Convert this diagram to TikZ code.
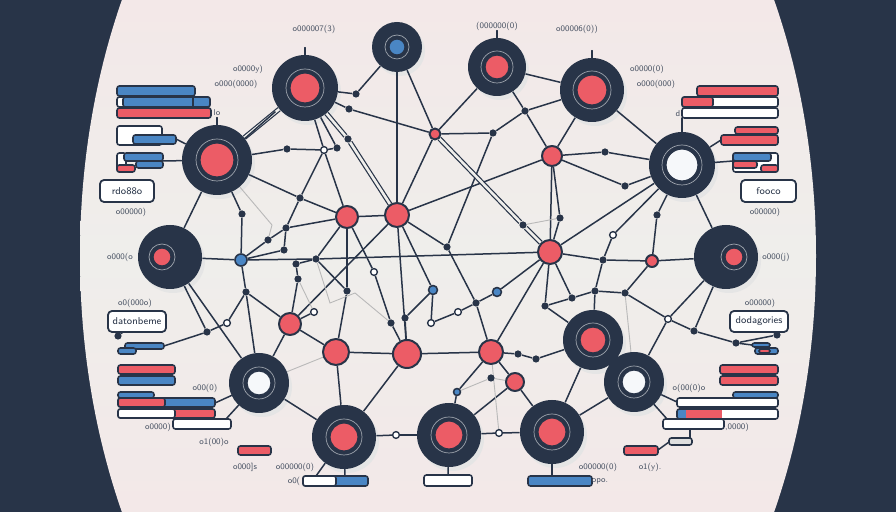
\documentclass[tikz,border=0pt]{standalone}
\usetikzlibrary{positioning}
\definecolor{navy}{RGB}{40,52,72}
\definecolor{coral}{RGB}{236,92,102}
\definecolor{sky}{RGB}{74,134,196}
\definecolor{paper}{RGB}{239,238,235}
\definecolor{blush}{RGB}{243,232,232}
\definecolor{snow}{RGB}{246,248,250}
\pgfdeclarelayer{back}
\pgfdeclarelayer{links}
\pgfsetlayers{back,links,main}
\tikzset{
  hub/.style={circle, fill=navy, inner sep=0pt, minimum size={(#1)*1pt}},
  ring/.style={circle, draw=white!55!navy, line width=0.35pt, inner sep=0pt, minimum size={(#1)*1pt}},
  core/.style={circle, draw=navy, line width=0.6pt, inner sep=0pt, minimum size={(#1)*1pt}},
  knot/.style={circle, fill=coral, draw=navy, line width=1pt, inner sep=0pt, minimum size={(#1)*1pt}},
  blip/.style={circle, fill=sky, draw=navy, line width=0.8pt, inner sep=0pt, minimum size={(#1)*1pt}},
  dot/.style={circle, fill=navy, inner sep=0pt, minimum size=3.6pt},
  hole/.style={circle, fill=white, draw=navy, line width=0.7pt, inner sep=0pt, minimum size=3.4pt},
  wire/.style={draw=navy, line width=0.75pt},
  twin/.style={draw=navy, line width=0.6pt, double=paper, double distance=1.3pt},
  faint/.style={draw=gray!55, line width=0.45pt},
  slab/.style={draw=navy, line width=0.8pt, rounded corners=1.2pt},
  tag/.style={draw=navy, line width=0.9pt, fill=white, rounded corners=2pt, inner sep=0pt,
    font=\sffamily\fontsize{5}{6}\selectfont, text=navy},
  note/.style={inner sep=0pt, font=\sffamily\fontsize{4.2}{5}\selectfont, text=navy!85},
}
\begin{document}
\begin{tikzpicture}[x=0.5pt, y=-0.5pt, line cap=round, line join=round]
  \useasboundingbox (0,0) rectangle (896,512);
  % backdrop
  \begin{pgfonlayer}{back}
    \fill[navy] (0,0) rectangle (896,512);
    \begin{scope}
      \clip (448,256) ellipse [x radius=368, y radius=552];
      \shade[top color=blush, bottom color=blush, middle color=paper] (0,0) rectangle (896,512);
    \end{scope}
  \end{pgfonlayer}

  % hubs
  \foreach \n/\x/\y/\R/\r/\c/\dx in {hA/305/88/33/15/coral/0, hB/397/47/25/8/sky/0,
      hC/497/67/29/12/coral/0, hD/592/90/32/15/coral/0, hE/217/160/35/17/coral/0,
      hF/682/165/33/16/snow/0, hG/170/257/32/9/coral/-8, hH/726/257/32/9/coral/8,
      hI/259/383/30/12/snow/0, hK/593/340/30/13/coral/0, hJ/634/382/30/12/snow/0,
      hL/344/437/32/14/coral/0, hM/449/435/32/14/coral/0, hN/552/432/32/14/coral/0}{
    \begin{pgfonlayer}{back}
      \fill[black!10] (\x+3,\y+4) circle (\R);
    \end{pgfonlayer}
    \node[hub=\R] (\n) at (\x,\y) {};
    \node[ring=\r+4] (\n r) at (\x+\dx,\y) {};
    \node[core=\r, fill=\c] (\n c) at (\x+\dx,\y) {};
  }
  \foreach \h in {hA,hC,hD,hE}
    \draw[wire] (\h.north) -- ++(0,-7);

  % small nodes
  \foreach \n/\x/\y/\r in {k1/347/217/11, k2/397/215/12, k3/435/134/5.5, k4/552/156/10,
      k5/550/252/12, k6/652/261/6, k7/290/324/11, k8/336/352/13, k9/407/354/14,
      k10/491/352/12, k11/515/382/9}
    \node[knot=\r] (\n) at (\x,\y) {};
  \foreach \n/\x/\y/\r in {b1/241/260/6, b2/433/290/4.5, b3/497/292/4.5, b4/457/392/3.5}
    \node[blip=\r] (\n) at (\x,\y) {};
  \foreach \n/\x/\y in {w1/324/150, w2/374/272, w3/613/235, w4/314/312, w5/458/312,
      w6/431/323, w7/396/435, w8/499/433, w9/668/319, w10/227/323}
    \node[hole] (\n) at (\x,\y) {};
  \foreach \n/\x/\y in {d1/356/94, d2/349/109, d3/287/149, d4/337/148, d5/348/139,
      d6/300/198, d7/286/228, d8/268/240, d9/242/214, d10/284/250, d11/316/259,
      d12/296/264, d13/298/279, d14/246/292, d15/347/291, d16/447/247, d17/476/303,
      d18/391/323, d19/405/318, d20/493/133, d21/525/111, d22/605/152, d23/625/186,
      d24/560/218, d25/523/225, d26/603/260, d27/595/291, d28/572/298, d29/545/306,
      d30/625/293, d31/657/215, d32/518/354, d33/536/359, d34/207/332, d35/694/331,
      d36/736/343, d39/491/378, d40/118/336, d41/777/335}
    \node[dot] (\n) at (\x,\y) {};

  % links
  \begin{pgfonlayer}{links}
    \foreach \a/\b in {hA/d1, d1/hB, hA/d2, d2/k3, hB/k3, hB/k2, hC/k3, hC/d21, hC/hD,
        d21/hD, k3/d20, d20/d21, d21/k4, hD/k4, hD/hF, k4/d22, d22/hF, k4/d23, d23/hF,
        k2/k4, k2/k3, hE/d3, d3/w1, w1/d4, d4/hA, hA/w1, w1/k1, hE/d6, d6/k1, w1/d6,
        d6/d7, d7/k1, d7/d8, d8/b1, d7/d10, d10/b1, hE/d9, d9/b1, hE/hG, hG/b1,
        b1/d11, d11/k5, k5/d26, d26/k6, k6/hH, b1/d14, d14/hI, d14/k7, d11/d12,
        d12/d13, d13/k7, d11/d15, d15/k1, d15/k8, k8/k7, k7/w4, k7/k2, k2/k1, k1/w2,
        w2/d18, d18/k9, k2/k9, k2/d16, d16/d17, d17/k10, k2/b2, b2/w6, b2/d19,
        d19/k9, w6/w5, w5/d17, d17/b3, b3/k5, d20/d16, k5/k10, k4/k5, k4/d24,
        d24/k5, k5/hF, hF/w3, w3/d26, hF/d31, d31/k6, hF/hH, k5/d28, k5/d29,
        d29/d28, d28/d27, d27/d30, d26/d27, d27/hK, d30/k6, d30/w9, w9/hH, w9/d35,
        d35/d36, hH/d35, hJ/w9, hK/hN, hK/d29, k10/d32, d32/d33, d33/hK, hN/hJ,
        hN/k11, k11/k10, k10/k9, k9/k8, k8/hL, k9/hL, k10/b4, b4/hM, hM/k11,
        hI/k7, hI/hL, hL/w7, w7/hM, hM/w8, w8/hN, hG/d34, d34/w10, w10/d14,
        hG/hI, k1/d11, d36/d41}
      \draw[wire] (\a) -- (\b);
    \foreach \a/\b in {hE/hA, hA/d5, d5/k2, k3/d25, d25/k5}
      \draw[twin] (\a) -- (\b);
    \draw[wire] ([yshift=-3pt]hE.north east) -- ([xshift=-3pt]hA.south west);
    \foreach \a/\b in {d25/d24, k8/hI, b4/d39, d39/k11, k10/w8, d13/w4, d30/hJ}
      \draw[faint] (\a) -- (\b);
    \draw[faint] (hE) -- (272,225) -- (d8);
    \draw[faint] (d11) -- (330,303) -- (355,293) -- (d18);
  \end{pgfonlayer}

  % left panel
  \draw[slab, fill=sky] (117,86) rectangle (195,96);
  \draw[slab, fill=white] (117,97) rectangle (210,107);
  \draw[slab, fill=sky] (123,97) rectangle (210,107);
  \draw[slab] (193,97) -- (193,107);
  \draw[slab, fill=coral] (117,108) rectangle (211,118);
  \draw[slab, fill=white] (117,126) rectangle (162,145);
  \draw[slab, fill=sky] (133,135) rectangle (176,144);
  \draw[slab, fill=white] (117,153) rectangle (126,172);
  \draw[slab, fill=sky] (124,153) rectangle (163,161);
  \draw[slab, fill=sky] (136,161) rectangle (163,168);
  \draw[slab, fill=coral] (117,165) rectangle (135,172);
  \coordinate (eA) at (163,161);
  \coordinate (eB) at (176,139);
  \draw[wire] (hE) -- (eA);
  \draw[wire] (hE) -- (eB);
  \node[tag, minimum width=27pt, minimum height=11pt] (tagA) at (127,191) {rdo88o};

  \node[tag, minimum width=29pt, minimum height=10.5pt] (tagB) at (137,321.5) {datonbeme};
  \draw[wire] (tagB) -- (d40);
  \draw[slab, fill=sky] (125,343) rectangle (164,349);
  \draw[slab, fill=sky] (118,348) rectangle (136,354);
  \coordinate (gA) at (164,346);
  \draw[wire] (d34) -- (gA);
  \draw[slab, fill=coral] (118,365) rectangle (175,374);
  \draw[slab, fill=sky] (118,376) rectangle (175,385);
  \draw[slab, fill=sky] (118,392) rectangle (154,398);
  \draw[slab, fill=sky] (118,398) rectangle (215,407);
  \draw[slab, fill=coral] (118,398) rectangle (165,407);
  \draw[slab, fill=coral] (118,409) rectangle (215,418);
  \draw[slab, fill=white] (118,409) rectangle (175,418);
  \draw[slab, fill=white] (173,419) rectangle (231,429);
  \draw[slab, fill=coral] (238,446) rectangle (271,455);
  \coordinate (gB) at (215,403);
  \coordinate (gC) at (226,419);
  \draw[wire] (hI) -- (gB);
  \draw[wire] (hI) -- (gC);

  % bottom bars
  \draw[slab, fill=sky] (303,476) rectangle (368,486);
  \draw[slab, fill=white] (303,476) rectangle (336,486);
  \draw[slab, fill=white] (424,475) rectangle (472,486);
  \draw[slab, fill=sky] (528,476) rectangle (592,486);
  \coordinate (uA) at (345,476);
  \coordinate (uB) at (316,476);
  \coordinate (uC) at (448,475);
  \coordinate (uD) at (552,476);
  \draw[wire] (hL) -- (uA);
  \draw[wire] (hL) -- (uB);
  \draw[wire] (hM) -- (uC);
  \draw[wire] (hN) -- (uD);

  % right panel
  \draw[slab, fill=coral] (697,86) rectangle (778,96);
  \draw[slab, fill=white] (682,97) rectangle (778,107);
  \draw[slab, fill=coral] (682,97) rectangle (713,107);
  \draw[slab, fill=white] (682,108) rectangle (778,118);
  \draw[slab, fill=coral] (735,127) rectangle (778,134);
  \draw[slab, fill=coral] (721,135) rectangle (778,145);
  \draw[slab, fill=white] (733,153) rectangle (778,172);
  \draw[slab, fill=sky] (733,153) rectangle (771,161);
  \draw[slab, fill=coral] (733,161) rectangle (757,168);
  \draw[slab, fill=coral] (761,165) rectangle (778,172);
  \coordinate (fA) at (682,118);
  \coordinate (fB) at (721,140);
  \coordinate (fC) at (733,161);
  \draw[wire] (hF) -- (fA);
  \draw[wire] (hF) -- (fB);
  \draw[wire] (hF) -- (fC);
  \node[tag, minimum width=27.5pt, minimum height=11pt] (tagC) at (768.5,191) {fooco};

  \node[tag, minimum width=29pt, minimum height=10.5pt] (tagD) at (759,321.5) {dodagories};
  \draw[wire] (tagD) -- (d41);
  \draw[slab, fill=sky] (752,343) rectangle (770,347);
  \draw[slab, fill=sky] (755,348) rectangle (778,354);
  \draw[slab, fill=coral] (759,349) rectangle (770,353);
  \coordinate (jA) at (752,345);
  \draw[wire] (d36) -- (jA);
  \draw[slab, fill=coral] (720,365) rectangle (778,374);
  \draw[slab, fill=coral] (720,376) rectangle (778,385);
  \draw[slab, fill=sky] (733,392) rectangle (778,398);
  \draw[slab, fill=white] (677,398) rectangle (778,407);
  \fill[white] (677,409) rectangle (778,419);
  \fill[sky] (678,410) rectangle (686,418);
  \fill[coral] (686,410) rectangle (722,418);
  \draw[slab] (677,409) rectangle (778,419);
  \draw[slab, fill=white] (663,419) rectangle (724,429);
  \draw[slab, fill=gray!25] (669,438) rectangle (692,445);
  \draw[slab, fill=coral] (624,446) rectangle (658,455);
  \draw[wire] (658,450) -- (669,442);
  \draw[wire] (690,438) -- (690,429);
  \coordinate (jB) at (677,402);
  \coordinate (jC) at (667,419);
  \draw[wire] (hJ) -- (jB);
  \draw[wire] (hJ) -- (jC);

  % captions
  \foreach \x/\y/\t [count=\i] in {314/29/{o000007(3)}, 497/26/{(000000(0)},
      577/29/{o00006(0))}, 248/69/{o0000y)}, 236/84/{o000(0000)}, 647/69/{o0000(0)},
      656/84/{o000(000)}, 131/212/{o00000)}, 765/212/{o00000)}, 120/257/{o000(o},
      776/257/{o000(j)}, 135/303/{o0(000o)}, 760/303/{o00000)}, 205/388/{o00(0)},
      689/388/{o(00(0)o}, 158/427/{o0000)}, 737/427/{{,}0000)}, 214/442/{o1(00)o},
      245/467/{o000]s}, 295/467/{o00000(0)}, 294/481/{o0(}, 598/467/{o00000(0)},
      650/467/{o1(y).}, 600/481/{opo.}, 217/113/{lo}, 678/114/{d}}
    \node[note] (cap\i) at (\x,\y) {\t};
\end{tikzpicture}
\end{document}
